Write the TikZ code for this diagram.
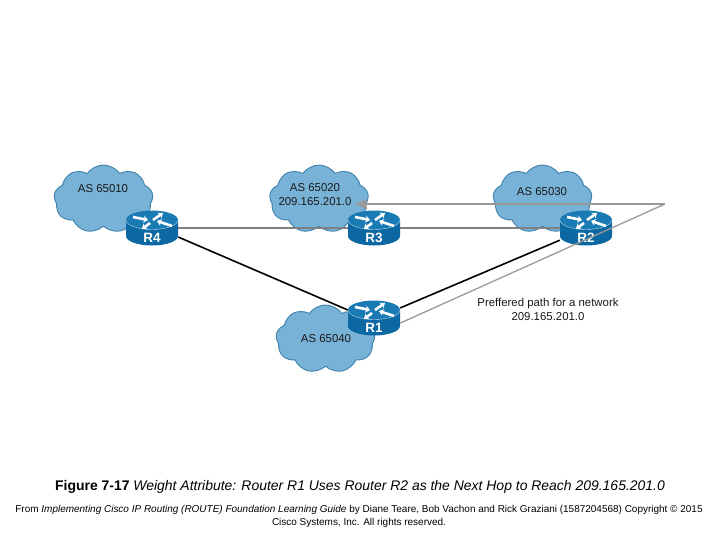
\documentclass[tikz,border=0pt]{standalone}
\usepackage{fontspec}
\setmainfont{Liberation Sans}
\usetikzlibrary{shapes.symbols,arrows.meta}
\definecolor{cloudblue}{HTML}{78B2D6}
\definecolor{cloudedge}{HTML}{3F82AC}
\definecolor{routerside}{HTML}{0B68A3}
\definecolor{routertop}{HTML}{1A7AB4}
\definecolor{linkgray}{HTML}{808080}
\definecolor{pathgray}{HTML}{999999}
\tikzset{cloudnet/.style = {cloud, cloud puffs=9, cloud puff arc=110, aspect=1.45, draw=cloudedge, fill=cloudblue, line width=0.9pt, inner sep=0pt, minimum width=99, minimum height=68},
         routerbox/.style = {inner sep=0pt, minimum width=52, minimum height=34},
         routertext/.style = {text=white, font=\bfseries\fontsize{13.5}{14}\selectfont, inner sep=0pt},
         astext/.style = {text=black!90, font=\fontsize{11.4}{14}\selectfont, align=center, inner sep=0pt},
         flash/.style = {white, line width=2.6pt, -{Stealth[length=4.5pt,width=7pt]}},
         graylink/.style = {draw=linkgray, line width=2pt},
         blacklink/.style = {draw=black, line width=1.6pt},
         pathlink/.style = {draw=pathgray, line width=1.3pt},
         backlink/.style = {draw=pathgray, line width=2.2pt}}
\begin{document}
\begin{tikzpicture}[x=1pt,y=-1pt]
  \useasboundingbox (0,0) rectangle (720,540);
  % clouds
  \node[cloudnet] (cloud4) at (103.5,199) {};
  \node[cloudnet] (cloud3) at (319,199) {};
  \node[cloudnet] (cloud2) at (542.5,199) {};
  \node[cloudnet] (cloud1) at (325.5,339) {};
  \node[astext] (as10) at (103,189) {AS 65010};
  \node[astext] (as20) at (315,195) {AS 65020\\209.165.201.0};
  \node[astext] (as30) at (542,192) {AS 65030};
  \node[astext] (as40) at (326,339) {AS 65040};
  % routers
  \foreach \name/\x/\y in {R4/152/228, R3/374/228, R2/586/228, R1/374/318}{
    \fill[routerside] (\x-26,\y-8) -- (\x-26,\y+8) arc (180:0:26 and 9.5) -- (\x+26,\y-8) -- cycle;
    \fill[routertop] (\x,\y-8) ellipse (26 and 9.5);
    \draw[white!70!routertop, line width=0.4pt] (\x-26,\y-8) arc (180:0:26 and 9.5);
    \draw[flash] (\x-19,\y-11) -- (\x-4,\y-8);
    \draw[flash] (\x-2,\y-5) -- (\x-10,\y+1);
    \draw[flash] (\x+1,\y-8) -- (\x+11,\y-15);
    \draw[flash] (\x+20,\y-2) -- (\x+5,\y-7);
    \node[routerbox] (\name) at (\x,\y) {};
    \node[routertext] (\name text) at (\x,\y+10) {\name};
  }
  % links
  \draw[graylink] (R4.east) -- (R3.west);
  \draw[graylink] (R3.east) -- (R2.west);
  \draw[blacklink] (R4.-19) -- (R1.163);
  \draw[blacklink] (R1.21) -- (R2.205);
  % preferred path
  \coordinate (apex) at (665,204);
  \coordinate (tip) at (355,204);
  \draw[pathlink] (R1.-11) -- (apex);
  \draw[backlink, -{Stealth[length=12pt,width=10pt,inset=1pt]}] (apex) -- (tip);
  \node[astext] (pref) at (548,309) {Preffered path for a network\\209.165.201.0};
  % caption
  \node[inner sep=0pt, font=\fontsize{13.95}{16}\selectfont] (caption) at (360,487) {\textbf{Figure 7-17} \textit{Weight Attribute: Router R1 Uses Router R2 as the Next Hop to Reach 209.165.201.0}};
  \node[inner sep=0pt, align=center, font=\fontsize{9.98}{13}\selectfont] (source) at (359,516.5) {From \textit{Implementing Cisco IP Routing (ROUTE) Foundation Learning Guide} by Diane Teare, Bob Vachon and Rick Graziani (1587204568) Copyright © 2015\\Cisco Systems, Inc. All rights reserved.};
\end{tikzpicture}
\end{document}
